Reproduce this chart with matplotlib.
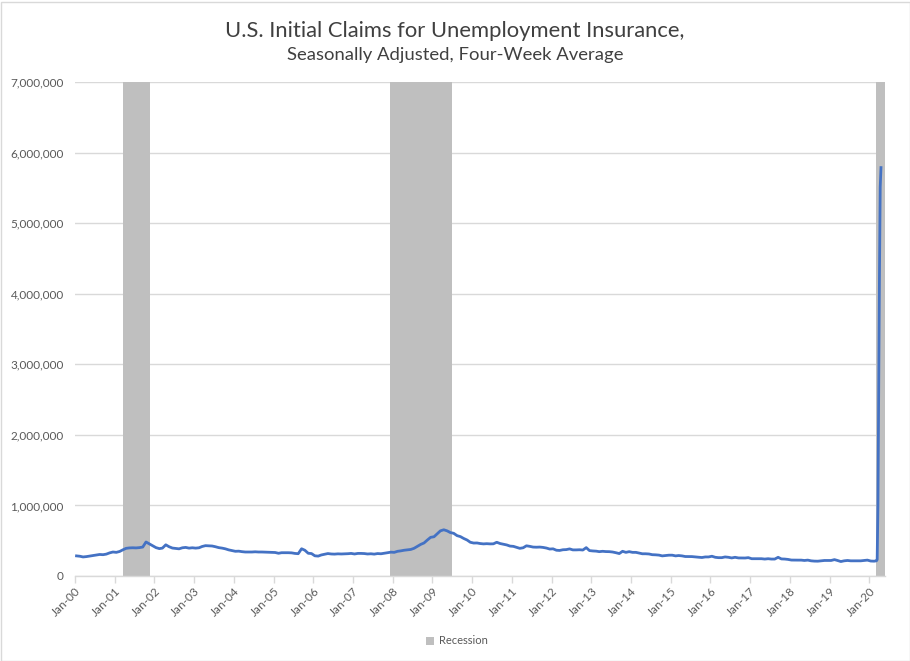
import matplotlib
matplotlib.use("Agg")
import matplotlib.pyplot as plt
import matplotlib.dates as mdates
import matplotlib.ticker as mticker
from matplotlib.patches import Rectangle
import pandas as pd
import numpy as np

plt.rcParams['font.family'] = ['Lato', 'DejaVu Sans']

# Monthly four-week average of initial claims (thousands), Jan 2000 - Feb 2020
claims_2000 = [285, 280, 270, 275, 282, 290, 298, 305, 302, 310, 328, 340]
claims_2001 = [335, 348, 370, 392, 398, 400, 398, 402, 410, 482, 455, 428]
claims_2002 = [402, 388, 395, 442, 415, 396, 390, 385, 400, 405, 395, 400]
claims_2003 = [395, 400, 418, 430, 428, 425, 415, 402, 395, 385, 370, 360]
claims_2004 = [350, 352, 345, 340, 340, 340, 343, 340, 340, 338, 335, 335]
claims_2005 = [333, 322, 330, 330, 330, 328, 320, 316, 386, 365, 322, 318]
claims_2006 = [286, 282, 298, 308, 318, 312, 310, 314, 312, 314, 316, 320]
claims_2007 = [312, 320, 320, 318, 312, 315, 310, 318, 315, 322, 330, 338]
claims_2008 = [335, 350, 356, 365, 370, 376, 392, 420, 448, 468, 510, 548]
claims_2009 = [556, 600, 640, 655, 640, 615, 605, 572, 558, 532, 510, 478]
claims_2010 = [467, 468, 460, 455, 458, 455, 456, 478, 460, 450, 440, 424]
claims_2011 = [420, 405, 392, 400, 428, 420, 410, 408, 410, 405, 396, 382]
claims_2012 = [385, 365, 362, 372, 374, 384, 370, 370, 372, 368, 402, 360]
claims_2013 = [355, 352, 345, 350, 346, 345, 340, 330, 318, 350, 335, 345]
claims_2014 = [335, 335, 325, 315, 315, 312, 302, 300, 296, 285, 290, 295]
claims_2015 = [295, 285, 290, 285, 276, 276, 275, 270, 266, 262, 270, 270]
claims_2016 = [280, 265, 260, 260, 270, 265, 256, 265, 256, 255, 255, 260]
claims_2017 = [245, 245, 245, 245, 240, 245, 240, 240, 265, 242, 240, 235]
claims_2018 = [226, 225, 225, 225, 220, 225, 215, 211, 210, 215, 220, 220]
claims_2019 = [220, 232, 220, 205, 215, 220, 215, 215, 215, 215, 220, 225]
claims_2020_jan_feb = [212, 210]

# Weekly four-week average, March - April 2020 (thousands)
weeks_2020 = ['2020-03-07', '2020-03-14', '2020-03-21', '2020-03-28',
              '2020-04-04', '2020-04-11', '2020-04-18']
claims_weeks_2020 = [215, 232, 1004, 2653, 4265, 5509, 5787]

# Recession periods (start, end) as shaded on the chart
recession_starts = ['2001-03-15', '2007-12-10', '2020-03-07']
recession_ends = ['2001-11-25', '2009-06-25', '2020-05-25']

title = "U.S. Initial Claims for Unemployment Insurance,"
subtitle = "Seasonally Adjusted, Four-Week Average"

monthly = (claims_2000 + claims_2001 + claims_2002 + claims_2003 + claims_2004 +
           claims_2005 + claims_2006 + claims_2007 + claims_2008 + claims_2009 +
           claims_2010 + claims_2011 + claims_2012 + claims_2013 + claims_2014 +
           claims_2015 + claims_2016 + claims_2017 + claims_2018 + claims_2019 +
           claims_2020_jan_feb)
month_dates = pd.date_range('2000-01-01', periods=len(monthly), freq='MS') + pd.Timedelta(days=14)
dates = list(month_dates) + list(pd.to_datetime(weeks_2020))
values = np.array(monthly + claims_weeks_2020) * 1000

fig = plt.figure(figsize=(9.1, 6.61), dpi=100)
ax = fig.add_axes([75 / 910, 1 - 576 / 661, (885 - 75) / 910, (576 - 82) / 661])

grey_txt = '#595959'
for s, e in zip(recession_starts, recession_ends):
    ax.axvspan(pd.Timestamp(s), pd.Timestamp(e), color='#BFBFBF', lw=0, zorder=1,
               label='Recession' if s == recession_starts[0] else None)

ax.plot(dates, values, color='#4472C4', lw=2.0, zorder=3, solid_joinstyle='round')

ax.set_xlim(pd.Timestamp('2000-01-01'), pd.Timestamp('2020-05-25'))
ax.set_ylim(0, 7000000)
ax.yaxis.set_major_locator(mticker.MultipleLocator(1000000))
ax.yaxis.set_major_formatter(mticker.FuncFormatter(lambda v, p: f"{int(v):,}"))
ax.xaxis.set_major_locator(mdates.YearLocator(1, month=1, day=1))
ax.xaxis.set_major_formatter(mdates.DateFormatter('%b-%y'))

ax.grid(axis='y', color='#D9D9D9', lw=1.0, zorder=0)
ax.set_axisbelow(True)
for sp in ['top', 'right', 'left']:
    ax.spines[sp].set_visible(False)
ax.spines['bottom'].set_color('#D9D9D9')
ax.spines['bottom'].set_linewidth(1.0)
ax.spines['bottom'].set_zorder(4)

ax.tick_params(axis='y', length=0, pad=8, labelsize=8.5, labelcolor=grey_txt)
ax.tick_params(axis='x', length=5, width=1, color='#D9D9D9', pad=2,
               labelsize=8.5, labelcolor=grey_txt)
for lbl in ax.get_xticklabels():
    lbl.set_rotation(45)
    lbl.set_ha('right')
    lbl.set_va('top')
    lbl.set_rotation_mode('anchor')

fig.text(455 / 910, 1 - 31 / 661, title, ha='center', va='center',
         fontsize=15.8, color='#404040')
fig.text(455 / 910, 1 - 55 / 661, subtitle, ha='center', va='center',
         fontsize=13.3, color='#404040')

leg = fig.legend(loc='center', bbox_to_anchor=(457 / 910, 1 - 641 / 661), frameon=False,
                 fontsize=8, handlelength=0.7, handleheight=0.7, handletextpad=0.4,
                 labelcolor=grey_txt)

fig.patches.append(Rectangle((0.5 / 910, 0.5 / 661), 909 / 910, 659 / 661,
                             transform=fig.transFigure, fill=False,
                             edgecolor='#D9D9D9', lw=1.0))

fig.savefig('out.png', dpi=100, facecolor='white')
